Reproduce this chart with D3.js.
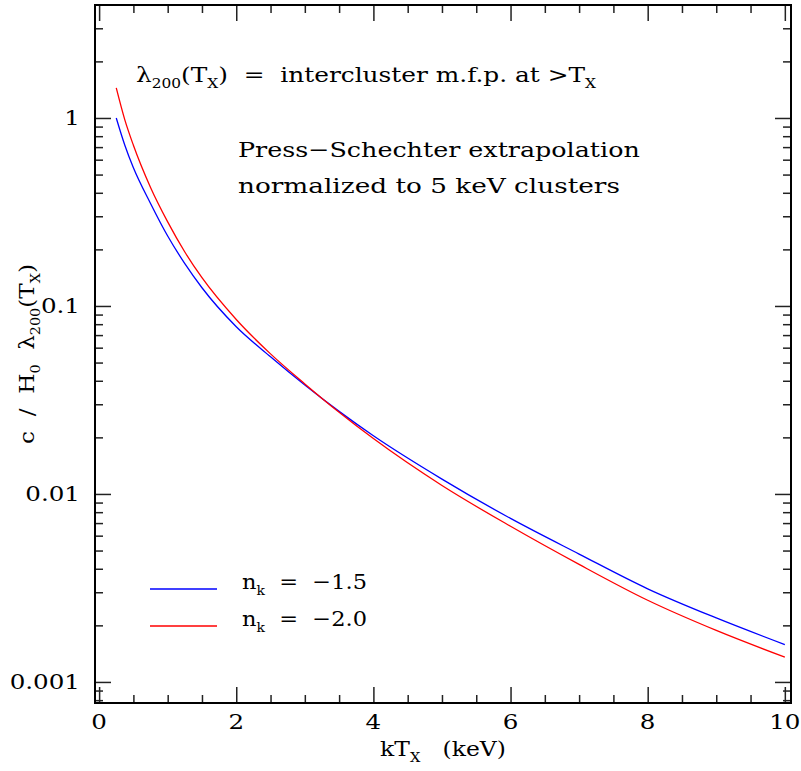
<!DOCTYPE html>
<html>
<head>
<meta charset="utf-8">
<script src="https://cdn.jsdelivr.net/npm/d3@7"></script>
<style>
  html, body { margin: 0; padding: 0; background: #fff; }
  svg text { font-family: "DejaVu Serif", "Liberation Serif", serif; fill: #000; white-space: pre; }
</style>
</head>
<body>
<svg id="chart" width="801" height="771"></svg>
<script>
// Temperature grid (keV)
const kT = [0.25, 0.375, 0.5, 0.75, 1.0, 1.25, 1.5, 2.0, 2.5, 3.0, 3.5, 4.0, 5.0, 6.0, 7.0, 8.0, 9.0, 10.0];

// c / (H0 * lambda_200) for the two spectral indices
const nkMinus15 = [1.000, 0.716, 0.543, 0.351, 0.2355, 0.168, 0.125, 0.0776, 0.0537, 0.0380, 0.0275, 0.0204, 0.0120, 0.00741, 0.00479, 0.00313, 0.00219, 0.00158];
const nkMinus20 = [1.445, 0.977, 0.716, 0.427, 0.280, 0.1936, 0.1413, 0.0847, 0.0556, 0.0385, 0.0272, 0.0197, 0.01109, 0.00673, 0.00422, 0.00272, 0.00188, 0.001355];

const seriesNames = ["\u22121.5", "\u22122.0"];
const seriesColors = ["#0000ff", "#ff0000"];

const xMajorTicks = [0, 2, 4, 6, 8, 10];
const xMinorTicks = d3.range(0, 10.01, 0.5);
const yMajorTicks = [1, 0.1, 0.01, 0.001];
const yTickLabels = ["1", "0.1", "0.01", "0.001"];

const svg = d3.select("#chart");
const L = 95, R = 791, T = 5, B = 703;

const x = d3.scaleLinear().domain([-0.06, 10.09]).range([L, R]);
const y = d3.scaleLog().domain([Math.pow(10, -3.112), Math.pow(10, 0.601)]).range([B, T]);

// minor y ticks: 2..9 in every decade inside the domain
const yMinorTicks = [];
[-4, -3, -2, -1, 0].forEach(e => {
  for (let m = 2; m <= 9; m++) {
    const v = m * Math.pow(10, e);
    if (v > y.domain()[0] && v < y.domain()[1]) yMinorTicks.push(v);
  }
});

const MAJ = 16, MIN = 8;
const FS = 21;          // base font size
const LABEL_STRETCH = 1.17;

// stretch a text element horizontally about a pivot so it spans the given width
function fitWidth(sel, width, pivot) {
  const w = sel.node().getBBox().width;
  const k = width / w;
  const base = sel.attr("transform") || "";
  sel.attr("transform", `${base} translate(${pivot},0) scale(${k},1) translate(${-pivot},0)`);
}
function stretch(sel, k, pivot) {
  const base = sel.attr("transform") || "";
  sel.attr("transform", `${base} translate(${pivot},0) scale(${k},1) translate(${-pivot},0)`);
}

function tickAxis(axisFn, scale, values, size, tx, ty) {
  const g = svg.append("g").attr("transform", `translate(${tx},${ty})`)
    .call(axisFn(scale).tickValues(values).tickSize(size).tickFormat(""));
  g.select(".domain").remove();
  g.selectAll(".tick line").attr("stroke", "#222").attr("stroke-width", 1.5);
  return g;
}

// inward ticks on all four sides
tickAxis(d3.axisBottom, x, xMajorTicks, -MAJ, 0, B);
tickAxis(d3.axisBottom, x, xMinorTicks.filter(v => v % 2 !== 0), -MIN, 0, B);
tickAxis(d3.axisTop, x, xMajorTicks, -MAJ, 0, T);
tickAxis(d3.axisTop, x, xMinorTicks.filter(v => v % 2 !== 0), -MIN, 0, T);
tickAxis(d3.axisLeft, y, yMajorTicks, -MAJ, L, 0);
tickAxis(d3.axisLeft, y, yMinorTicks, -MIN, L, 0);
tickAxis(d3.axisRight, y, yMajorTicks, -MAJ, R, 0);
tickAxis(d3.axisRight, y, yMinorTicks, -MIN, R, 0);

// tick labels
svg.append("g").selectAll("text").data(xMajorTicks).join("text")
  .attr("x", d => x(d)).attr("y", 729)
  .attr("text-anchor", "middle").attr("font-size", FS)
  .text(d => String(d))
  .each(function(d) { stretch(d3.select(this), LABEL_STRETCH, x(d)); });

svg.append("g").selectAll("text").data(yMajorTicks).join("text")
  .attr("x", 80).attr("y", d => y(d) + 7.5)
  .attr("text-anchor", "end").attr("font-size", FS)
  .text((d, i) => yTickLabels[i])
  .each(function() { stretch(d3.select(this), LABEL_STRETCH, 80); });

// curves
const line = d3.line().x(d => x(d[0])).y(d => y(d[1])).curve(d3.curveMonotoneX);
[nkMinus15, nkMinus20].forEach((vals, i) => {
  svg.append("path")
    .datum(kT.map((t, j) => [t, vals[j]]))
    .attr("fill", "none")
    .attr("stroke", seriesColors[i])
    .attr("stroke-width", 1.3)
    .attr("d", line);
});

// frame
svg.append("rect").attr("x", L).attr("y", T).attr("width", R - L).attr("height", B - T)
  .attr("fill", "none").attr("stroke", "#000").attr("stroke-width", 2);

// text with subscripts: parts = [[text, isSub], ...]
function richText(xp, yp, parts, size, anchor, rotate) {
  const t = svg.append("text").attr("font-size", size).attr("text-anchor", anchor || "start");
  if (rotate) t.attr("transform", `translate(${xp},${yp}) rotate(-90)`);
  else t.attr("x", xp).attr("y", yp);
  let sub = false;
  parts.forEach(([s, isSub]) => {
    const sp = t.append("tspan").text(s);
    if (isSub && !sub) sp.attr("dy", size * 0.28).attr("font-size", size * 0.62);
    else if (!isSub && sub) sp.attr("dy", -size * 0.28);
    sub = isSub;
  });
  return t;
}

// annotations
const t1 = richText(136, 82, [["\u03bb", false], ["200", true], ["(T", false], ["X", true],
  [")  =  intercluster m.f.p. at >T", false], ["X", true]], FS);
fitWidth(t1, 461, 136);

const t2 = svg.append("text").attr("x", 238).attr("y", 157).attr("font-size", FS)
  .text("Press\u2212Schechter extrapolation");
fitWidth(t2, 402, 238);
const t3 = svg.append("text").attr("x", 238).attr("y", 193).attr("font-size", FS)
  .text("normalized to 5 keV clusters");
fitWidth(t3, 382, 238);

// legend
const legendY = [589, 626];
seriesNames.forEach((name, i) => {
  svg.append("line").attr("x1", 150).attr("x2", 217)
    .attr("y1", legendY[i]).attr("y2", legendY[i])
    .attr("stroke", seriesColors[i]).attr("stroke-width", 1.3);
  const lt = richText(242, legendY[i], [["n", false], ["k", true], ["  =  " + name, false]], FS);
  fitWidth(lt, 125, 242);
});

// axis titles
const xt = richText(443, 756, [["kT", false], ["X", true], ["   (keV)", false]], FS, "middle");
fitWidth(xt, 126, 443);
const yt = richText(34, 354, [["c  /  H", false], ["0", true], ["  \u03bb", false], ["200", true],
  ["(T", false], ["X", true], [")", false]], FS, "middle", true);
fitWidth(yt, 180, 0);
</script>
</body>
</html>
